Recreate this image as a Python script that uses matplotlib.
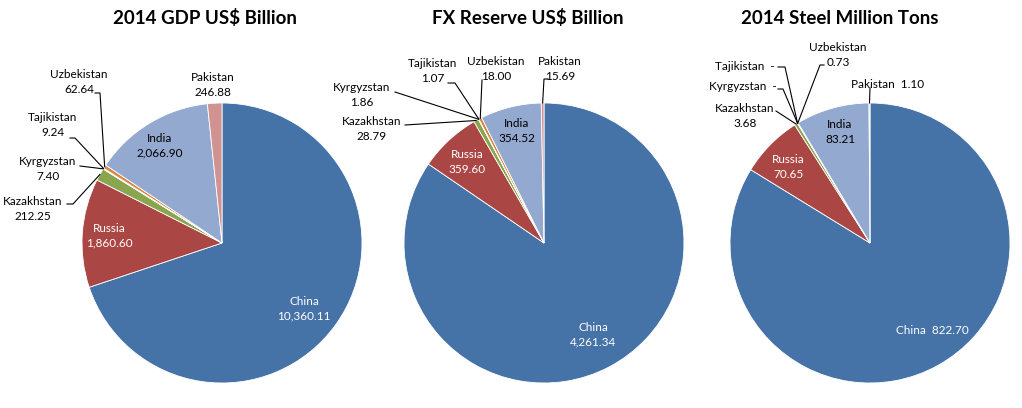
import matplotlib
matplotlib.use("Agg")
import matplotlib.pyplot as plt
import numpy as np

plt.rcParams['font.family'] = ['Lato', 'DejaVu Sans']

countries = ["China", "Russia", "Kazakhstan", "Kyrgyzstan", "Tajikistan",
             "Uzbekistan", "India", "Pakistan"]
gdp = [10360.11, 1860.60, 212.25, 7.40, 9.24, 62.64, 2066.90, 246.88]
fx_reserve = [4261.34, 359.60, 28.79, 1.86, 1.07, 18.00, 354.52, 15.69]
steel = [822.70, 70.65, 3.68, 0.0, 0.0, 0.73, 83.21, 1.10]

titles = ["2014 GDP US$ Billion", "FX Reserve US$ Billion", "2014 Steel Million Tons"]

colors = ["#4572A7", "#AA4643", "#89A54E", "#71588F", "#4198AF",
          "#DB843D", "#93A9CF", "#D19392"]

W, H = 1022, 408
R = 140  # pie radius in pixels


def fmt(v):
    return "-" if v == 0 else "{:,.2f}".format(v)


# label layout per pie (pixel positions in the picture):
# country -> (label x, label y, separator, colour, leader start or None, stub px)
layouts = [
    {
        "China": (304, 309, "\n", "white", None, 0),
        "Russia": (109, 236, "\n", "white", None, 0),
        "India": (160, 146, "\n", "black", None, 0),
        "Kazakhstan": (33, 209, "\n", "black", (67, 204), 6),
        "Kyrgyzstan": (48, 169, "\n", "black", (80, 166), 0),
        "Tajikistan": (53, 125, "\n", "black", (70, 138), 5),
        "Uzbekistan": (79, 82, "\n", "black", (95, 93), 5),
        "Pakistan": (213, 85, "\n", "black", None, 0),
    },
    {
        "China": (593, 335, "\n", "white", None, 0),
        "Russia": (467, 162, "\n", "white", None, 0),
        "India": (517, 131, "\n", "black", None, 0),
        "Kazakhstan": (372, 129, "\n", "black", (405, 125), 0),
        "Kyrgyzstan": (362, 95, "\n", "black", (395, 92), 0),
        "Tajikistan": (433, 71, "\n", "black", (448, 83), 7),
        "Uzbekistan": (496, 69, "\n", "black", (482, 80), 0),
        "Pakistan": (560, 69, "\n", "black", (548, 79), -4),
    },
    {
        "China": (932, 330, "  ", "white", None, 0),
        "Russia": (788, 167, "\n", "white", None, 0),
        "India": (840, 132, "\n", "black", None, 0),
        "Kazakhstan": (745, 116, "\n", "black", (776, 111), 0),
        "Kyrgyzstan": (743, 87, "  ", "black", (778, 89), 5),
        "Tajikistan": (745, 67, "  ", "black", (778, 67), 7),
        "Uzbekistan": (838, 55, "\n", "black", (824, 65), -4),
        "Pakistan": (888, 84, "  ", "black", (870, 88), 0),
    },
]

centers_x = [222, 544, 870]
center_y = 243
title_x = [205, 528, 840]

fig = plt.figure(figsize=(W / 100, H / 100), dpi=100)

xl, xr, yb, yt = -1.6, 1.6, -1.17, 1.6
for i, (values, layout) in enumerate(zip([gdp, fx_reserve, steel], layouts)):
    cx = centers_x[i]
    cy = H - center_y
    ax = fig.add_axes([(cx + xl * R) / W, (cy + yb * R) / H,
                       (xr - xl) * R / W, (yt - yb) * R / H])

    wedges, _ = ax.pie(values, colors=colors, startangle=90, counterclock=False,
                       radius=1, center=(0, 0), frame=True,
                       wedgeprops=dict(edgecolor="white", linewidth=0.6))
    ax.set_xlim(xl, xr)
    ax.set_ylim(yb, yt)
    ax.axis("off")

    def to_r(px, py):
        return (px - cx) / R, (center_y - py) / R

    for name, w, v in zip(countries, wedges, values):
        px, py, sep, col, start, stub = layout[name]
        x, y = to_r(px, py)
        ax.text(x, y, name + sep + fmt(v), ha="center", va="center",
                fontsize=8.5, color=col, linespacing=1.4)
        if start is not None:
            ang = np.deg2rad((w.theta1 + w.theta2) / 2)
            ex, ey = np.cos(ang), np.sin(ang)
            sx, sy = to_r(*start)
            ax.plot([sx, sx + stub / R, ex], [sy, sy, ey], color="black",
                    lw=0.8, solid_joinstyle="miter")

    fig.text(title_x[i] / W, 1 - 18 / H, titles[i], ha="center", va="center",
             fontsize=13.5, fontweight="bold")

fig.savefig("out.png", dpi=100)
